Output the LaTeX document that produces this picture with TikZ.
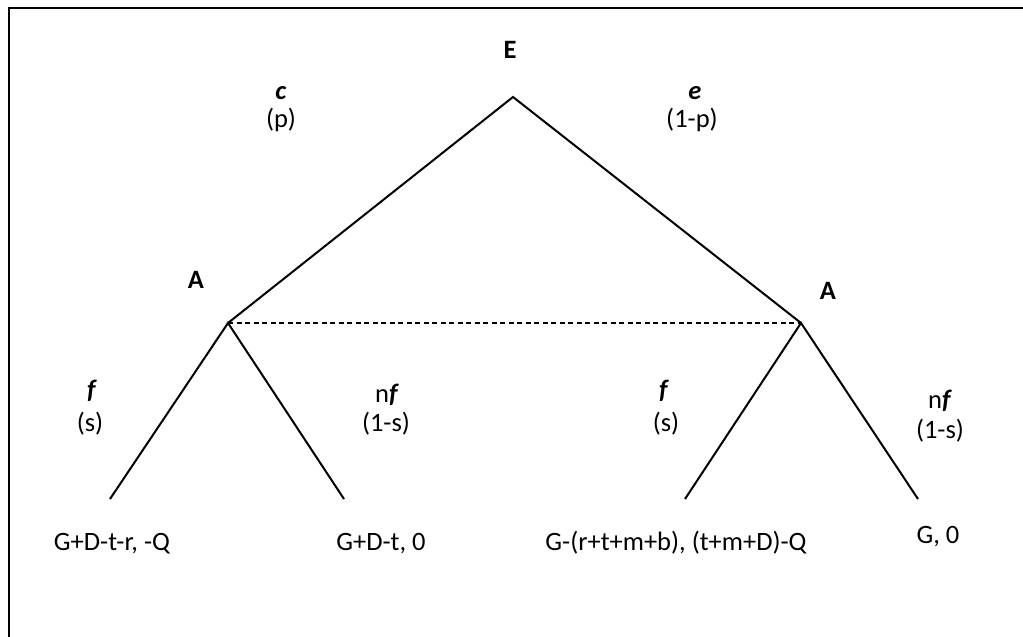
\documentclass[tikz,border=0pt]{standalone}
\usepackage{fontspec}
\setmainfont{Carlito}
\begin{document}
\begin{tikzpicture}[x=1pt,y=-1pt,
  lab/.style={anchor=base, inner sep=0pt, font=\fontsize{26.5}{31}\selectfont},
  branch/.style={line width=2pt},
  infoset/.style={line width=1.2pt, dash pattern=on 5pt off 3.5pt}]
\useasboundingbox (0,0) rectangle (1023,637);
\draw[line width=2pt] (9,637) -- (9,8) -- (1023,8);
% tree points
\coordinate (root) at (513,97);
\coordinate (a1) at (228,323);
\coordinate (a2) at (801,323);
\coordinate (l1) at (110,499);
\coordinate (l2) at (344,499);
\coordinate (l3) at (685,499);
\coordinate (l4) at (918,499);
\draw[branch] (a1) -- (root) -- (a2);
\draw[branch] (l1) -- (a1) -- (l2);
\draw[branch] (l3) -- (a2) -- (l4);
\draw[infoset] (a1) -- (a2);
% player labels
\node[lab] (E) at (510,58) {\textbf{E}};
\node[lab] (A1) at (196,288) {\textbf{A}};
\node[lab] (A2) at (828,299) {\textbf{A}};
% first move labels
\node[lab] (c) at (281,99) {\textbf{\textit{c}}};
\node[lab] (p) at (281,127) {(p)};
\node[lab] (e) at (695,99) {\textbf{\textit{e}}};
\node[lab] (pp) at (692,127) {(1-p)};
% second move labels
\node[lab] (f1) at (92,398) {\textbf{\textit{f}}};
\node[lab] (s1) at (90,431) {(s)};
\node[lab] (nf1) at (387,402) {n\textbf{\textit{f}}};
\node[lab] (ns1) at (386,431) {(1-s)};
\node[lab] (f2) at (664,398) {\textbf{\textit{f}}};
\node[lab] (s2) at (666,431) {(s)};
\node[lab] (nf2) at (940,408) {n\textbf{\textit{f}}};
\node[lab] (ns2) at (940,438) {(1-s)};
% payoffs
\node[lab] (p1) at (112,550) {G+D-t-r, -Q};
\node[lab] (p2) at (381,550) {G+D-t, 0};
\node[lab] (p3) at (676,550) {G-(r+t+m+b), (t+m+D)-Q};
\node[lab] (p4) at (938,543) {G, 0};
\end{tikzpicture}
\end{document}
